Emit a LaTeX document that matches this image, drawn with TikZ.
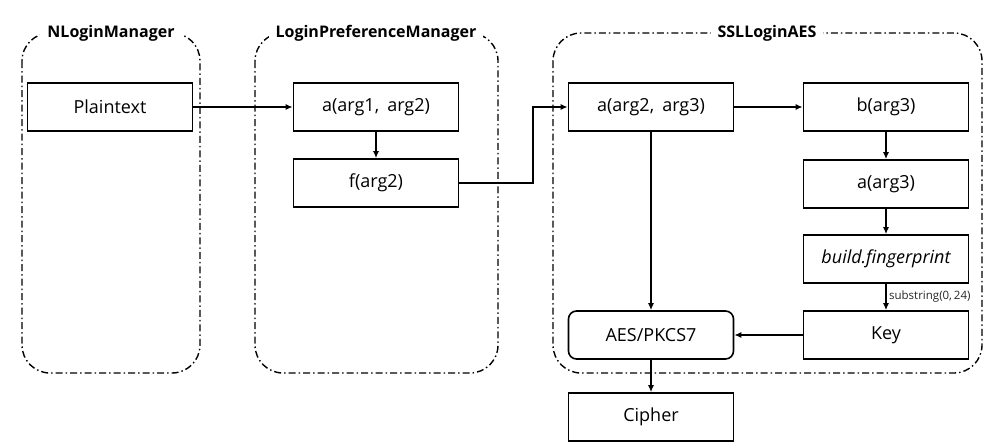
\documentclass[tikz,border=0pt]{standalone}
\usepackage{fontspec}
\setmainfont{Open Sans}
\usetikzlibrary{arrows.meta,calc}
\begin{document}
\begin{tikzpicture}[x=1pt,y=-1pt,
  container/.style={draw,line width=1.4pt,rounded corners=28pt,dash pattern=on 7pt off 3pt on 1.5pt off 3pt},
  clabel/.style={fill=white,inner xsep=7pt,inner ysep=2pt,font=\fontsize{16}{18}\selectfont\bfseries},
  box/.style={draw,line width=1.6pt,minimum width=165pt,minimum height=48pt,inner sep=0pt,font=\fontsize{18}{21}\selectfont},
  rbox/.style={box,rounded corners=8pt},
  arr/.style={line width=1.6pt,-{Latex[length=7pt,width=6pt]}}]
\useasboundingbox (0,0) rectangle (995,447);
% containers
\draw[container] (22,33) rectangle (200,373);
\draw[container] (255,33) rectangle (498,373);
\draw[container] (553,33) rectangle (982,373);
\node[clabel] (l1) at (111,33) {NLoginManager};
\node[clabel] (l2) at (376,33) {LoginPreferenceManager};
\node[clabel] (l3) at (767,33) {SSLLoginAES};
% boxes
\node[box] (pt) at (110,107) {Plaintext};
\node[box] (a12) at (376,107) {a(arg1,\hspace{0.45em}arg2)};
\node[box] (f2) at (376,183) {f(arg2)};
\node[box] (a23) at (651,107) {a(arg2,\hspace{0.45em}arg3)};
\node[box] (b3) at (886,107) {b(arg3)};
\node[box] (a3) at (886,184) {a(arg3)};
\node[box] (bf) at (886,259) {\itshape build.fingerprint};
\node[box] (key) at (886,335) {Key};
\node[rbox] (aes) at (651,335) {AES/PKCS7};
\node[box] (ci) at (651,417) {Cipher};
\coordinate (jx) at (533,145);
% connectors
\draw[arr] (pt) -- (a12);
\draw[arr] (a12) -- (f2);
\draw[arr] (f2.east) -| (jx) |- (a23.west);
\draw[arr] (a23) -- (b3);
\draw[arr] (b3) -- (a3);
\draw[arr] (a3) -- (bf);
\draw[arr] (bf) -- node[right,xshift=-1pt,font=\fontsize{11.5}{13}\selectfont,text=black!85] {substring(0,\,24)} (key);
\draw[arr] (key) -- (aes);
\draw[arr] (a23) -- (aes);
\draw[arr] (aes) -- (ci);
\end{tikzpicture}
\end{document}
